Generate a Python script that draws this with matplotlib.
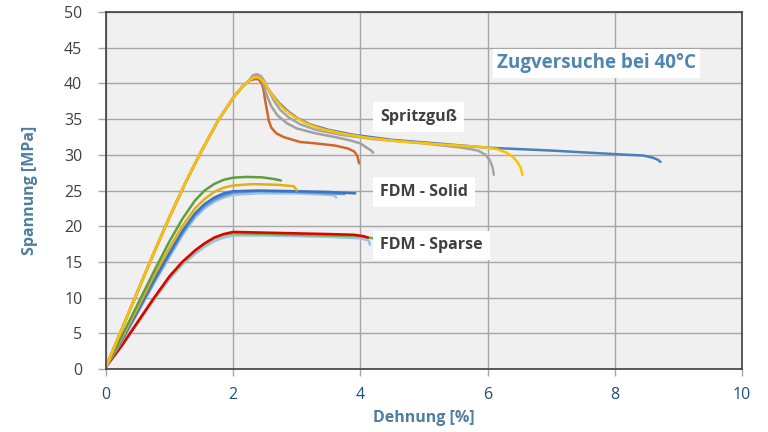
import matplotlib.pyplot as plt

plt.rcParams['font.family'] = ['Open Sans', 'DejaVu Sans']

# Spritzguß (injection moulded) curves: strain [%], stress [MPa]
sg_rise_x = [0, 0.25, 0.5, 0.75, 1.0, 1.25, 1.5, 1.75, 2.0, 2.15, 2.25]
sg_rise_y = [0.3, 5.6, 10.9, 16.2, 21.3, 26.1, 30.5, 34.6, 38.0, 39.6, 40.4]

sg_blue_x = sg_rise_x + [2.35, 2.42, 2.5, 2.6, 2.72, 2.85, 3.0, 3.2, 3.5, 3.9, 4.5, 5.2, 6.0, 7.0,
                         8.0, 8.45, 8.6, 8.68, 8.72]
sg_blue_y = sg_rise_y + [40.8, 40.7, 39.9, 38.6, 37.3, 36.2, 35.2, 34.3, 33.5, 32.8, 32.1, 31.6, 31.0, 30.6,
                         30.1, 29.9, 29.6, 29.3, 29.0]

sg_orange_x = sg_rise_x + [2.33, 2.4, 2.45, 2.48, 2.5, 2.53, 2.56, 2.6, 2.68, 2.79, 3.05, 3.3, 3.6,
                           3.8, 3.9, 3.95, 3.97, 3.98]
sg_orange_y = sg_rise_y + [40.6, 40.6, 40.0, 39.0, 37.8, 36.3, 34.8, 33.8, 33.0, 32.5, 31.8, 31.6, 31.3,
                           30.9, 30.5, 29.9, 29.2, 28.8]

sg_gray1_x = sg_rise_x + [2.32, 2.38, 2.44, 2.5, 2.56, 2.64, 2.74, 2.88, 3.05, 3.3, 3.7, 4.2, 5.0,
                          5.6, 5.85, 5.97, 6.04, 6.08, 6.1]
sg_gray1_y = sg_rise_y + [41.2, 41.3, 41.0, 40.2, 39.0, 37.6, 36.3, 35.2, 34.3, 33.5, 32.8, 32.2, 31.6,
                          31.0, 30.6, 30.0, 29.2, 28.2, 27.2]

sg_gray2_x = sg_rise_x + [2.31, 2.37, 2.43, 2.48, 2.53, 2.6, 2.7, 2.85, 3.0, 3.3, 3.6, 3.85, 4.0,
                          4.1, 4.17, 4.2]
sg_gray2_y = sg_rise_y + [41.1, 41.2, 40.8, 39.8, 38.3, 36.8, 35.5, 34.4, 33.7, 33.0, 32.5, 32.0, 31.6,
                          31.0, 30.6, 30.3]

sg_yellow_x = sg_rise_x + [2.32, 2.38, 2.44, 2.5, 2.58, 2.68, 2.8, 2.95, 3.15, 3.4, 3.7, 4.1, 4.6,
                           5.2, 5.9, 6.15, 6.3, 6.4, 6.47, 6.52, 6.55]
sg_yellow_y = sg_rise_y + [40.8, 40.9, 40.6, 40.0, 38.8, 37.6, 36.4, 35.4, 34.4, 33.6, 33.0, 32.4, 31.9,
                           31.5, 31.1, 30.8, 30.3, 29.7, 29.0, 28.2, 27.2]

# FDM - Solid
sol_green_x = [0, 0.25, 0.5, 0.75, 1.0, 1.2, 1.4, 1.55, 1.7, 1.85, 2.0, 2.2, 2.45, 2.65, 2.75]
sol_green_y = [0.3, 4.6, 9.1, 13.6, 17.9, 21.0, 23.6, 25.0, 25.9, 26.5, 26.8, 26.9, 26.85, 26.6, 26.4]

sol_yellow_x = [0, 0.25, 0.5, 0.75, 1.0, 1.2, 1.4, 1.55, 1.7, 1.85, 2.0, 2.3, 2.7, 2.95, 2.98, 3.0]
sol_yellow_y = [0.3, 4.3, 8.6, 13.0, 17.0, 20.0, 22.5, 23.8, 24.8, 25.4, 25.7, 25.9, 25.8, 25.6, 25.3, 25.0]

sol_blue_x = [0, 0.25, 0.5, 0.75, 1.0, 1.2, 1.4, 1.55, 1.7, 1.85, 2.0, 2.4, 3.0, 3.5, 3.92]
sol_blue_y = [0.3, 4.1, 8.2, 12.4, 16.3, 19.3, 21.8, 23.1, 24.0, 24.6, 24.9, 25.0, 24.9, 24.8, 24.6]

sol_mid_x = [0, 0.25, 0.5, 0.75, 1.0, 1.2, 1.4, 1.55, 1.7, 1.85, 2.0, 2.4, 3.0, 3.5, 3.75]
sol_mid_y = [0.3, 4.0, 8.0, 12.1, 16.0, 19.0, 21.5, 22.8, 23.7, 24.3, 24.7, 24.9, 24.8, 24.6, 24.5]

sol_light_x = [0, 0.25, 0.5, 0.75, 1.0, 1.2, 1.4, 1.55, 1.7, 1.85, 2.0, 2.4, 3.0, 3.5, 3.6, 3.62]
sol_light_y = [0.3, 3.9, 7.9, 11.9, 15.7, 18.7, 21.2, 22.5, 23.4, 24.0, 24.4, 24.6, 24.6, 24.4, 24.3, 24.0]

# FDM - Sparse
spa_light_x = [0, 0.25, 0.5, 0.75, 1.0, 1.2, 1.4, 1.55, 1.7, 1.85, 2.0, 2.5, 3.0, 3.5, 4.0, 4.13, 4.15]
spa_light_y = [0.3, 3.2, 6.4, 9.6, 12.6, 14.6, 16.1, 17.1, 17.9, 18.4, 18.7, 18.7, 18.6, 18.5, 18.3, 18.0, 17.4]

spa_pink_x = [0, 0.25, 0.5, 0.75, 1.0, 1.2, 1.4, 1.55, 1.7, 1.85, 2.0, 2.5, 3.0, 3.5, 4.0]
spa_pink_y = [0.3, 3.3, 6.5, 9.8, 12.9, 14.9, 16.5, 17.5, 18.3, 18.8, 19.0, 19.0, 18.9, 18.8, 18.6]

spa_green_x = [0, 0.25, 0.5, 0.75, 1.0, 1.2, 1.4, 1.55, 1.7, 1.85, 2.0, 2.5, 3.0, 3.5, 4.0, 4.2]
spa_green_y = [0.3, 3.3, 6.6, 9.8, 12.9, 14.9, 16.5, 17.5, 18.3, 18.8, 19.0, 18.9, 18.8, 18.7, 18.6, 18.3]

spa_red_x = [0, 0.25, 0.5, 0.75, 1.0, 1.2, 1.4, 1.55, 1.7, 1.85, 2.0, 2.5, 3.0, 3.5, 3.9, 4.05, 4.12]
spa_red_y = [0.3, 3.3, 6.6, 9.9, 13.0, 15.0, 16.6, 17.6, 18.4, 18.9, 19.2, 19.1, 19.0, 18.9, 18.8, 18.6, 18.4]

curves = [
    (spa_light_x, spa_light_y, '#9dc3e6'),
    (spa_pink_x, spa_pink_y, '#f4b183'),
    (spa_green_x, spa_green_y, '#70ad47'),
    (spa_red_x, spa_red_y, '#e00000'),
    (sol_light_x, sol_light_y, '#9dc3e6'),
    (sol_mid_x, sol_mid_y, '#5b9bd5'),
    (sol_blue_x, sol_blue_y, '#3f72c0'),
    (sol_yellow_x, sol_yellow_y, '#e2ae16'),
    (sol_green_x, sol_green_y, '#5f9e3c'),
    (sg_blue_x, sg_blue_y, '#4a7fc0'),
    (sg_orange_x, sg_orange_y, '#d0672a'),
    (sg_gray2_x, sg_gray2_y, '#a0a0a0'),
    (sg_gray1_x, sg_gray1_y, '#a5a5a5'),
    (sg_yellow_x, sg_yellow_y, '#ffc000'),
]

fig = plt.figure(figsize=(7.68, 4.32), dpi=100)
ax = fig.add_axes([0.138, 0.146, 0.828, 0.826])
ax.set_facecolor('#f0f0f0')

for x, y, c in curves:
    ax.plot(x, y, color=c, lw=1.8, solid_capstyle='round', solid_joinstyle='round')

ax.set_xlim(0, 10)
ax.set_ylim(0, 50)
ax.set_xticks(range(0, 11, 2))
ax.set_yticks(range(0, 51, 5))
ax.grid(True, color='#a6a6a6', lw=1.0)
ax.set_axisbelow(True)
for s in ax.spines.values():
    s.set_color('#404040')
    s.set_linewidth(1.2)
ax.tick_params(axis='y', colors='#404040', labelsize=11.5, length=6, width=1, color='#a6a6a6', pad=11)
ax.tick_params(axis='x', labelcolor='#1f4e79', labelsize=11.5, length=5, width=1, color='#a6a6a6', pad=8)

ax.set_xlabel('Dehnung [%]', color='#4e7fa0', fontsize=11.5, fontweight='bold', labelpad=5)
ax.set_ylabel('Spannung [MPa]', color='#4e7fa0', fontsize=11.5, fontweight='bold', labelpad=19)

box = dict(facecolor='white', edgecolor='none', pad=5)
ax.text(4.31, 35.3, 'Spritzguß', fontsize=11.5, fontweight='bold', color='#404040', va='center', bbox=box)
ax.text(4.31, 24.8, 'FDM - Solid', fontsize=11.5, fontweight='bold', color='#404040', va='center', bbox=box)
ax.text(4.31, 17.3, 'FDM - Sparse', fontsize=11.5, fontweight='bold', color='#404040', va='center', bbox=box)
ax.text(6.15, 42.8, 'Zugversuche bei 40°C', fontsize=13.5, fontweight='bold', color='#4e86b0',
        va='center', bbox=dict(facecolor='white', edgecolor='none', pad=3))

fig.savefig('out.png', dpi=100)
